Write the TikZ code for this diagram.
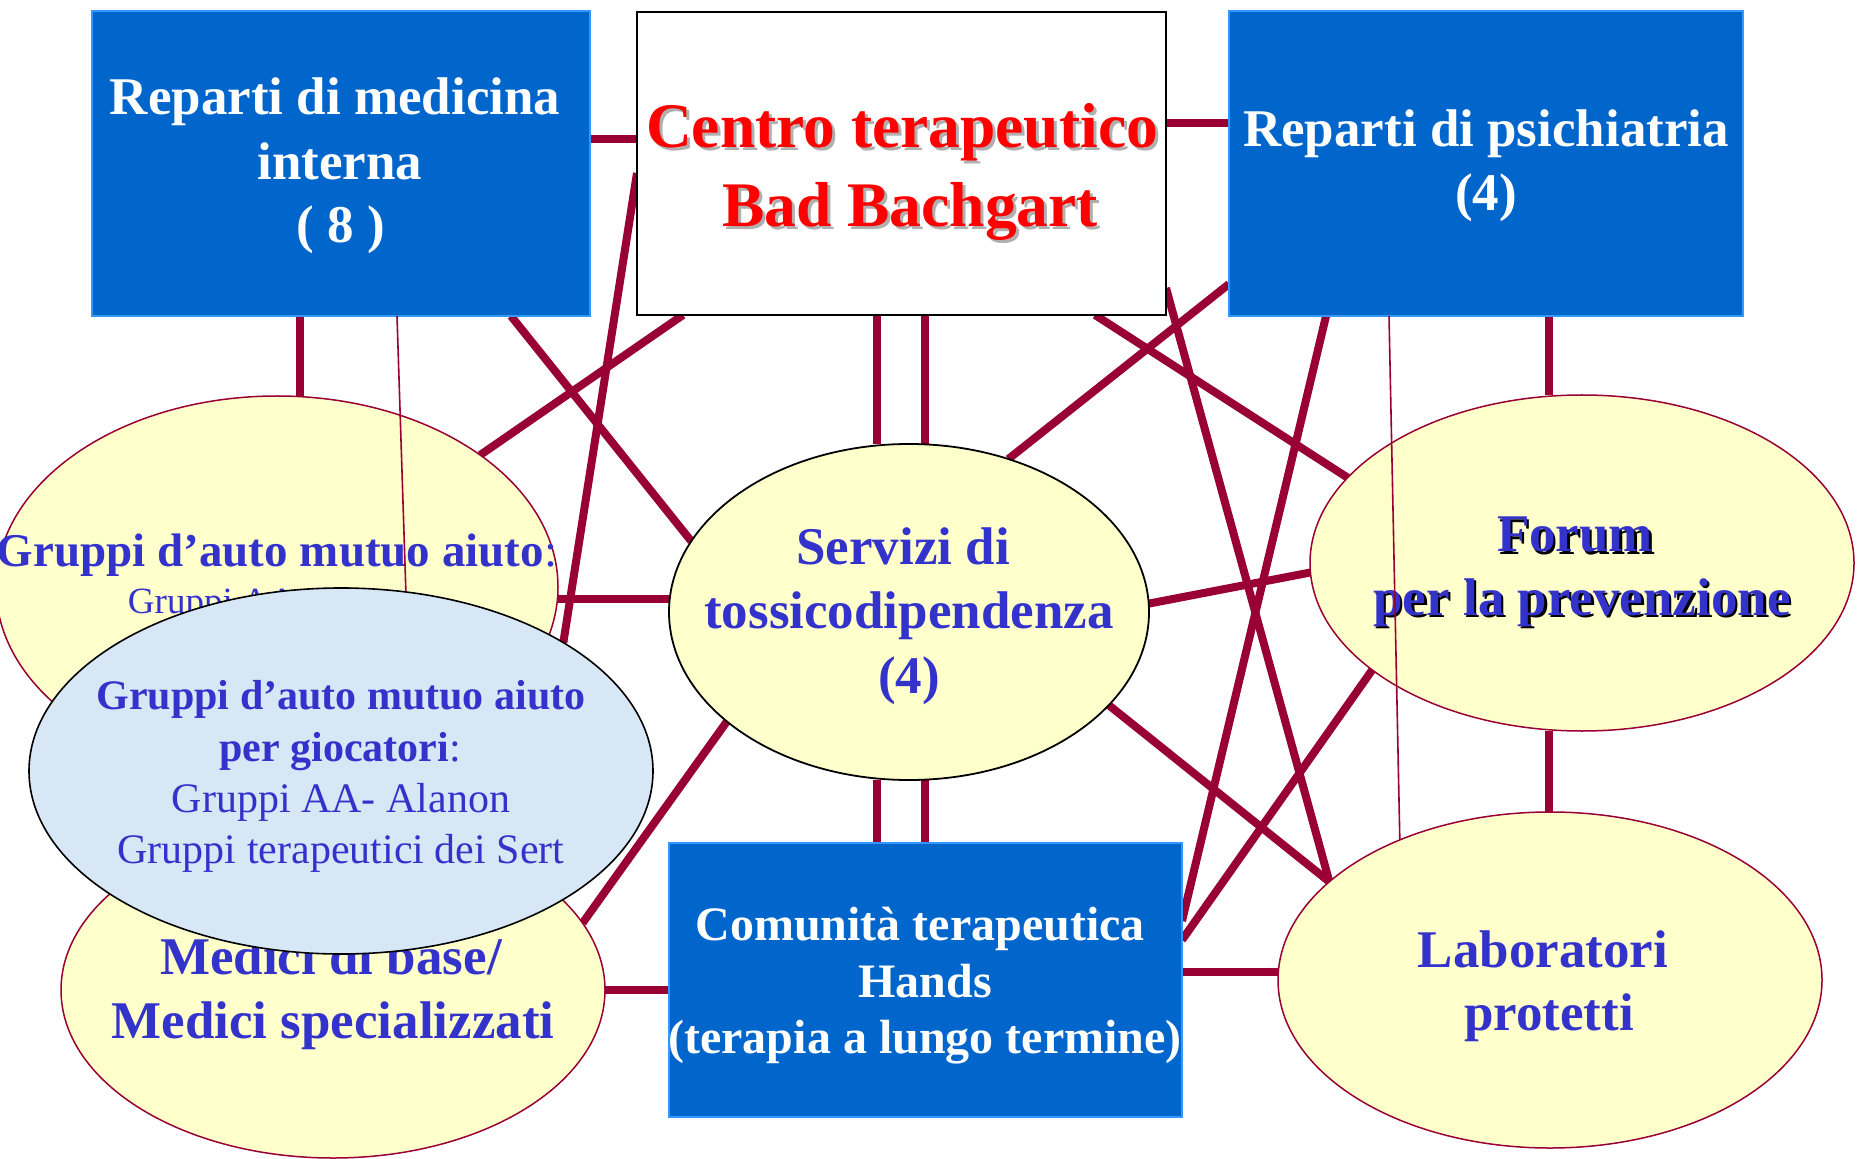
\documentclass[tikz,border=0pt]{standalone}
\usepackage{fontspec}
\setmainfont{Liberation Serif}
\usetikzlibrary{shapes.geometric,backgrounds}
\definecolor{crim}{HTML}{990033}
\definecolor{boxblue}{HTML}{0066CC}
\definecolor{boxedge}{HTML}{3399FF}
\definecolor{txtblue}{HTML}{3333CC}
\definecolor{paleyel}{HTML}{FFFFCC}
\definecolor{paleblue}{HTML}{D8E7F5}
\definecolor{shgray}{HTML}{B0B0B0}
\newcommand\setfs[1]{\fontsize{#1}{#1}\selectfont}
\newcommand\shtext[4]{\rlap{\hspace{#4}\raisebox{-#4}{\textcolor{#1}{#3}}}\textcolor{#2}{#3}}
\begin{document}
\begin{tikzpicture}[x=0.5pt,y=-0.5pt,
  conn/.style={draw=crim,line width=4pt},
  hair/.style={draw=crim,line width=0.8pt},
  bluebox/.style={rectangle,fill=boxblue,draw=boxedge,line width=0.6pt,inner sep=0pt,outer sep=0pt},
  whitebox/.style={rectangle,fill=white,draw=black,line width=1pt,inner sep=0pt,outer sep=0pt},
  oval/.style={ellipse,fill=paleyel,draw=crim,line width=0.75pt,inner sep=0pt,outer sep=0pt},
  lbl/.style={anchor=base,inner sep=0pt,outer sep=0pt},
  redtxt/.style={lbl,font=\bfseries\setfs{31.75pt}},
  wtxt/.style={lbl,text=white,font=\bfseries\setfs{26.5pt}},
  ctxt/.style={lbl,text=white,font=\bfseries\setfs{24pt}},
  btxt/.style={lbl,text=txtblue,font=\bfseries\setfs{26.5pt}},
  gtxt/.style={lbl,text=txtblue,font=\setfs{21pt}},
]
\useasboundingbox (0,0) rectangle (1871,1159);

% self-help groups (back ellipse)
\node[oval,minimum width=281pt,minimum height=191pt] (grp) at (277,587) {};
\node[lbl,text=txtblue,font=\setfs{23.5pt}] (grp1) at (277,567) {\textbf{Gruppi d’auto mutuo aiuto}:};
\node[lbl,text=txtblue,font=\setfs{18.5pt}] (grp2) at (277,613) {Gruppi AA- Alanon};

% Medici
\node[oval,minimum width=272pt,minimum height=168pt] (med) at (333,990) {};
\node[btxt] (med1) at (331,974) {Medici di base/};
\node[btxt] (med2) at (333,1038) {Medici specializzati};

% Servizi
\node[oval,draw=black,line width=0.9pt,minimum width=240pt,minimum height=168pt] (serv) at (909,612) {};
\node[btxt] (serv1) at (903,565) {Servizi di};
\node[btxt] (serv2) at (909,628) {tossicodipendenza};
\node[btxt] (serv3) at (909,693) {(4)};

% Forum
\node[oval,minimum width=272pt,minimum height=168pt] (forum) at (1582,563) {};
\node[btxt] (forum1) at (1575,552) {\shtext{black}{txtblue}{Forum}{1.2pt}};
\node[btxt] (forum2) at (1582,615) {\shtext{black}{txtblue}{per la prevenzione}{1.2pt}};

% Laboratori
\node[oval,minimum width=272pt,minimum height=168pt] (lab) at (1550,980) {};
\node[btxt] (lab1) at (1543,967) {Laboratori};
\node[btxt] (lab2) at (1549,1030) {protetti};

% boxes
\node[bluebox,minimum width=249pt,minimum height=152.5pt] (rmi) at (341,163.5) {};
\node[wtxt] (rmi1) at (335,115) {Reparti di medicina};
\node[wtxt] (rmi2) at (340,180) {interna};
\node[wtxt] (rmi3) at (341,243) {( 8 )};

\node[whitebox,minimum width=264.5pt,minimum height=151.5pt] (cen) at (901.5,163.5) {};
\node[redtxt] (cen1) at (902,148) {\shtext{shgray}{red}{Centro terapeutico}{1.5pt}};
\node[redtxt] (cen2) at (910,227) {\shtext{shgray}{red}{Bad Bachgart}{1.5pt}};

\node[bluebox,minimum width=257pt,minimum height=152.5pt] (rp) at (1486,163.5) {};
\node[wtxt] (rp1) at (1486,147) {Reparti di psichiatria};
\node[wtxt] (rp2) at (1486,211) {(4)};

\node[bluebox,minimum width=256.5pt,minimum height=137pt] (com) at (925.5,980) {};
\node[ctxt] (com1) at (920,940) {Comunità terapeutica};
\node[ctxt] (com2) at (925,997) {Hands};
\node[ctxt] (com3) at (925,1053) {(terapia a lungo termine)};

% thin connectors
\coordinate (t1end) at (410,720);
\draw[hair] (rmi.south -| 397,0) -- (t1end);
\draw[hair] (rp.south -| 1389,0) -- (lab.137);

% gamblers self-help groups (front ellipse)
\node[ellipse,fill=paleblue,draw=black,line width=0.8pt,inner sep=0pt,outer sep=0pt,minimum width=312pt,minimum height=183pt] (gio) at (341,771) {};
\node[gtxt,font=\bfseries\setfs{21pt}] (gio1) at (341,709) {Gruppi d’auto mutuo aiuto};
\node[gtxt] (gio2) at (340,761) {\textbf{per giocatori}:};
\node[gtxt] (gio3) at (341,812) {Gruppi AA- Alanon};
\node[gtxt] (gio4) at (341,863) {Gruppi terapeutici dei Sert};

\begin{pgfonlayer}{background}
\fill[white] (0,0) rectangle (1871,1159);
\draw[conn] (rmi.east |- 0,139) -- (cen.west |- 0,139);
\draw[conn] (cen.east |- 0,123) -- (rp.west |- 0,123);
\draw[conn] (rmi.south -| grp.83) -- (grp.83);
\draw[conn] (rmi.south -| 511,0) -- (serv.162);
\draw[conn] (cen.south -| 683,0) -- (grp.33);
\draw[conn] (cen.west |- 0,173) -- (gio.30);
\draw[conn] (cen.south -| 877,0) -- (serv.north -| 877,0);
\draw[conn] (cen.south -| 925,0) -- (serv.north -| 925,0);
\draw[conn] (serv.south -| 877,0) -- (com.north -| 877,0);
\draw[conn] (serv.south -| 925,0) -- (com.north -| 925,0);
\draw[conn] (cen.south -| 1095,0) -- (forum.160);
\draw[conn] (cen.east |- 0,288) -- (lab.156);
\draw[conn] (rp.west |- 0,284) -- (serv.57);
\draw[conn] (rp.south -| 1326,0) -- (com.east |- 0,921);
\draw[conn] (rp.south -| 1549,0) -- (forum.north -| 1549,0);
\draw[conn] (forum.207) -- (com.east |- 0,940);
\draw[conn] (forum.south -| 1549,0) -- (lab.north -| 1549,0);
\draw[conn] (serv.2) -- (forum.182);
\draw[conn] (serv.335) -- (lab.156);
\draw[conn] (serv.211) -- (med.15);
\draw[conn] (med.east) -- (com.west |- med.east);
\draw[conn] (com.east |- 0,972) -- (lab.west |- 0,972);
\draw[conn] (serv.177) -- (serv.177 -| grp.east);
\end{pgfonlayer}
\end{tikzpicture}
\end{document}
